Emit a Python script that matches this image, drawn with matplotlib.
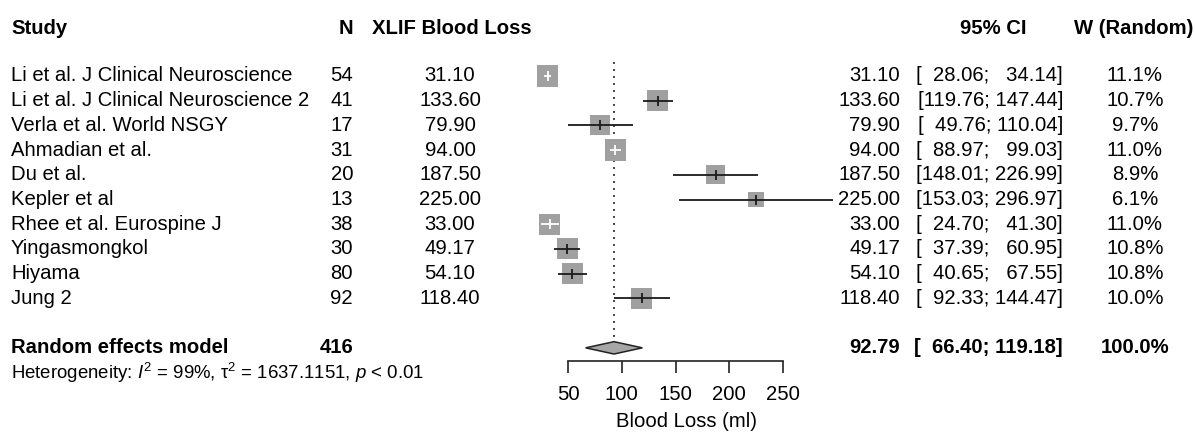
import matplotlib
matplotlib.use("Agg")
import matplotlib.pyplot as plt
from matplotlib.transforms import blended_transform_factory
import numpy as np

# ---------------- data ----------------
studies = [
    "Li et al. J Clinical Neuroscience",
    "Li et al. J Clinical Neuroscience 2",
    "Verla et al. World NSGY",
    "Ahmadian et al.",
    "Du et al.",
    "Kepler et al",
    "Rhee et al. Eurospine J",
    "Yingasmongkol",
    "Hiyama",
    "Jung 2",
]
n_values = [54, 41, 17, 31, 20, 13, 38, 30, 80, 92]
mean_loss = [31.10, 133.60, 79.90, 94.00, 187.50, 225.00, 33.00, 49.17, 54.10, 118.40]
ci_low = [28.06, 119.76, 49.76, 88.97, 148.01, 153.03, 24.70, 37.39, 40.65, 92.33]
ci_high = [34.14, 147.44, 110.04, 99.03, 226.99, 296.97, 41.30, 60.95, 67.55, 144.47]
weights = [11.1, 10.7, 9.7, 11.0, 8.9, 6.1, 11.0, 10.8, 10.8, 10.0]

pooled_label = "Random effects model"
pooled_n = 416
pooled_est = 92.79
pooled_low = 66.40
pooled_high = 119.18
pooled_weight = 100.0

x_ticks = [50, 100, 150, 200, 250]
x_label = "Blood Loss (ml)"
headers = ["Study", "N", "XLIF Blood Loss", "95% CI", "W (Random)"]
het_text = r"Heterogeneity: $I^2$ = 99%, $\mathrm{\tau}^2$ = 1637.1151, $p$ < 0.01"

# ---------------- style ----------------
plt.rcParams["font.family"] = ["Liberation Sans", "DejaVu Sans"]
plt.rcParams["mathtext.fontset"] = "custom"
plt.rcParams["mathtext.rm"] = "Liberation Sans"
plt.rcParams["mathtext.it"] = "Liberation Sans:italic"
plt.rcParams["mathtext.bf"] = "Liberation Sans:bold"

W, H = 1196, 434
FS = 14.6
fig = plt.figure(figsize=(W / 100, H / 100), dpi=100)
fig.patch.set_facecolor("white")

axis_y_px = 360.7
ax = fig.add_axes([568 / W, (H - axis_y_px) / H, 215 / W, axis_y_px / H])
ax.set_xlim(50, 250)
ax.set_ylim(11.52, -3.07)
ax.patch.set_alpha(0)
for side in ["top", "left", "right"]:
    ax.spines[side].set_visible(False)
ax.spines["bottom"].set_linewidth(1.2)
ax.spines["bottom"].set_color("#222222")
ax.set_yticks([])
ax.set_xticks(x_ticks)
ax.set_xticklabels([str(t) for t in x_ticks])
ax.tick_params(axis="x", length=8.8, width=1.2, direction="out", pad=9.0,
               labelsize=FS, colors="#222222", labelcolor="black")
ax.set_xlabel(x_label, fontsize=FS)
ax.xaxis.set_label_coords(0.551, -0.142)

px_per_unit = 215 / 200.0
rows = np.arange(len(studies))
pooled_row = 11
header_row = -1.9
het_row = 12.0

# squares (area proportional to weight)
side_px = 6.4 * np.sqrt(np.array(weights))
ax.scatter(mean_loss, rows, s=(side_px * 0.72) ** 2, marker="s",
           color="#a0a0a0", linewidths=0, zorder=2, clip_on=False)

# CI lines and estimate ticks
for i in range(len(studies)):
    inside = (ci_high[i] - ci_low[i]) * px_per_unit < side_px[i]
    c = "white" if inside else "#1a1a1a"
    ax.hlines(rows[i], ci_low[i], ci_high[i], color=c, lw=1.3, zorder=3, clip_on=False)
    ax.plot([mean_loss[i]], [rows[i]], marker="|", ms=6.5, mew=1.3, color=c,
            zorder=4, clip_on=False, linestyle="none")

# dotted pooled line
ax.vlines(pooled_est, -0.57, pooled_row - 0.24, colors="#444444",
          linestyles=(0, (1, 2.6)), lw=1.4, zorder=1, clip_on=False)

# diamond
ax.fill([pooled_low, pooled_est, pooled_high, pooled_est],
        [pooled_row, pooled_row - 0.25, pooled_row, pooled_row + 0.25],
        facecolor="#a6a6a6", edgecolor="#222222", lw=1.1, zorder=3, clip_on=False)

# ---------------- text columns ----------------
tr = blended_transform_factory(fig.transFigure, ax.transData)


def put(xpx, y, s, ha, bold=False, size=FS):
    fig.text(xpx / W, y, s, transform=tr, ha=ha, va="center", fontsize=size,
             fontweight="bold" if bold else "normal", color="black")


def fmt(v):
    return f"{v:.2f}".rjust(6, "\u2007")


col_study, col_n, col_xlif, col_eff, col_ci, col_w = 11, 353, 450, 900, 1063, 1135

put(col_study, header_row, headers[0], "left", True)
put(col_n, header_row, headers[1], "right", True)
put(452, header_row, headers[2], "center", True)
put(993, header_row, headers[3], "center", True)
put(1193, header_row, headers[4], "right", True)

for i in range(len(studies)):
    put(col_study, rows[i], studies[i], "left")
    put(col_n, rows[i], str(n_values[i]), "right")
    put(col_xlif, rows[i], f"{mean_loss[i]:.2f}", "center")
    put(col_eff, rows[i], f"{mean_loss[i]:.2f}", "right")
    put(col_ci, rows[i], f"[{fmt(ci_low[i])}; {fmt(ci_high[i])}]", "right")
    put(col_w, rows[i], f"{weights[i]:.1f}%", "center")

put(col_study, pooled_row, pooled_label, "left", True)
put(col_n, pooled_row, str(pooled_n), "right", True)
put(col_eff, pooled_row, f"{pooled_est:.2f}", "right", True)
put(col_ci, pooled_row, f"[{fmt(pooled_low)}; {fmt(pooled_high)}]", "right", True)
put(col_w, pooled_row, f"{pooled_weight:.1f}%", "center", True)

put(col_study, het_row, het_text, "left", size=13.4)

fig.savefig("out.png", dpi=100, facecolor="white")
